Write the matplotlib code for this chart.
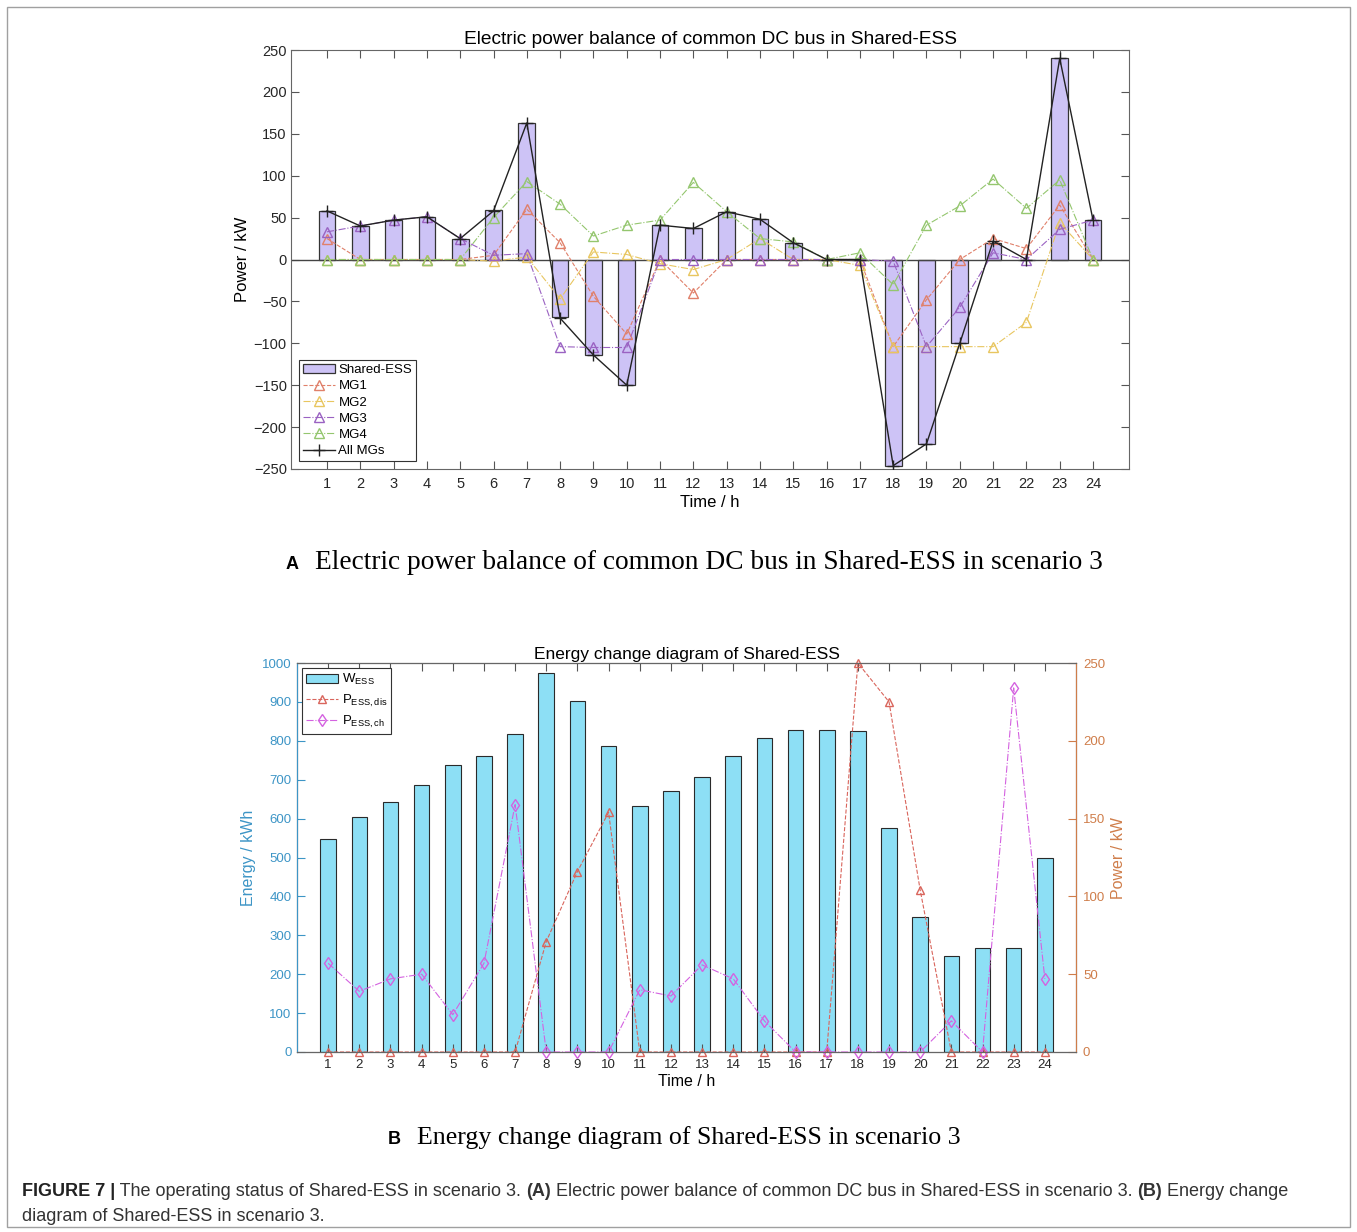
import matplotlib
matplotlib.use("Agg")
import matplotlib.pyplot as plt
from matplotlib.patches import Rectangle

plt.rcParams['font.family'] = ['Liberation Sans', 'DejaVu Sans']
plt.rcParams['mathtext.fontset'] = 'custom'
plt.rcParams['mathtext.rm'] = 'Liberation Sans'

W, H = 1357, 1232

hours = list(range(1, 25))

# panel A: power balance of the common DC bus (kW)
shared_ess = [58, 40, 47, 51, 25, 59, 163, -69, -114, -150, 41, 37,
              57, 48, 20, 0, 0, -246, -220, -100, 20, 0, 240, 47]
mg1 = [25, 0, 0, 0, 0, 5, 60, 20, -44, -89, 0, -40,
       0, 0, 0, 0, 0, -104, -48, 0, 25, 13, 65, 0]
mg2 = [0, 0, 0, 0, 0, -2, 3, -47, 9, 6, -5, -12,
       0, 25, 0, 0, -7, -104, -104, -104, -104, -75, 44, 0]
mg3 = [33, 40, 47, 51, 25, 5, 7, -104, -105, -105, 0, 0,
       0, 0, 0, 0, 0, -2, -104, -57, 8, 0, 36, 47]
mg4 = [0, 0, 0, 0, 0, 50, 93, 66, 28, 41, 47, 92,
       57, 25, 21, 0, 8, -30, 41, 64, 96, 61, 95, 0]
all_mgs = [58, 40, 47, 51, 25, 58, 163, -70, -114, -150, 41, 37,
           57, 48, 20, 0, 0, -246, -220, -100, 22, 0, 240, 47]

# panel B: energy of the shared ESS (kWh) and its power (kW)
w_ess = [547, 603, 642, 687, 737, 760, 817, 975, 903, 787, 632, 672,
         707, 762, 807, 827, 827, 825, 575, 348, 246, 267, 267, 500]
p_dis = [0, 0, 0, 0, 0, 0, 0, 71, 116, 154, 0, 0,
         0, 0, 0, 0, 0, 250, 225, 104, 0, 0, 0, 0]
p_ch = [57, 39, 47, 50, 24, 57, 159, 0, 0, 0, 40, 36,
        56, 47, 20, 0, 0, 0, 0, 0, 20, 0, 234, 47]

fig = plt.figure(figsize=(W / 100, H / 100), dpi=100)

# page background, frame and captions
bg = fig.add_axes([0, 0, 1, 1], zorder=-1)
bg.set_xlim(0, W)
bg.set_ylim(H, 0)
bg.axis('off')
bg.add_patch(Rectangle((7, 7), W - 14, H - 12, fill=False, ec='#a0a0a0', lw=1))

fig.text(286 / W, 1 - 569 / H, 'A', fontsize=13, fontweight='bold', va='baseline')
fig.text(315 / W, 1 - 569 / H, 'Electric power balance of common DC bus in Shared-ESS in scenario 3',
         family='Liberation Serif', fontsize=19.7, va='baseline')
fig.text(388 / W, 1 - 1144 / H, 'B', fontsize=13, fontweight='bold', va='baseline')
fig.text(417 / W, 1 - 1144 / H, 'Energy change diagram of Shared-ESS in scenario 3',
         family='Liberation Serif', fontsize=18.6, va='baseline')

parts = [('FIGURE 7 |', 'bold'),
         (' The operating status of Shared-ESS in scenario 3. ', 'normal'),
         ('(A)', 'bold'),
         (' Electric power balance of common DC bus in Shared-ESS in scenario 3. ', 'normal'),
         ('(B)', 'bold'),
         (' Energy change', 'normal')]
prev = fig.text(22 / W, 1 - 1200 / H, parts[0][0], fontsize=13, fontweight=parts[0][1],
                color='#222222', va='bottom')
for s, wt in parts[1:]:
    prev = bg.annotate(s, xy=(1, 0), xycoords=prev, va='bottom', ha='left',
                       fontsize=13, fontweight=wt, color='#333333')
fig.text(22 / W, 1 - 1225 / H, 'diagram of Shared-ESS in scenario 3.', fontsize=13,
         color='#333333', va='bottom')

# ---- panel A ----
ax1 = fig.add_axes([291 / W, 1 - 469 / H, 838 / W, 419 / H])
b1 = ax1.bar(hours, shared_ess, width=0.5, color='#cdc3f6', edgecolor='#333333', lw=0.9,
             label='Shared-ESS', zorder=2)
ax1.axhline(0, color='#444444', lw=1, zorder=2.5)
h1, = ax1.plot(hours, mg1, ls='--', marker='^', color='#e0806a', mfc='none', ms=7, lw=0.8,
               label='MG1', zorder=3)
h2, = ax1.plot(hours, mg2, ls='-.', marker='^', color='#e8c660', mfc='none', ms=7, lw=0.8,
               label='MG2', zorder=3)
h3, = ax1.plot(hours, mg3, ls='-.', marker='^', color='#9a62c2', mfc='none', ms=7, lw=0.8,
               label='MG3', zorder=3)
h4, = ax1.plot(hours, mg4, ls='-.', marker='^', color='#94c66e', mfc='none', ms=7, lw=0.8,
               label='MG4', zorder=3)
h5, = ax1.plot(hours, all_mgs, ls='-', marker='+', color='#222222', ms=8, lw=1,
               label='All MGs', zorder=4)
ax1.set_xlim(-0.08, 25.08)
ax1.set_ylim(-250, 250)
ax1.set_xticks(hours)
ax1.set_yticks(range(-250, 251, 50))
ax1.tick_params(direction='in', top=True, right=True, length=6, labelsize=10.5,
                color='#555555', labelcolor='#262626')
ax1.tick_params(axis='x', pad=6)
ax1.tick_params(axis='y', pad=3)
for sp in ax1.spines.values():
    sp.set_color('#666666')
ax1.set_title('Electric power balance of common DC bus in Shared-ESS', fontsize=13.8, pad=4)
ax1.set_xlabel('Time / h', fontsize=12, labelpad=3)
ax1.set_ylabel('Power / kW', fontsize=12, labelpad=3)
leg1 = ax1.legend([b1, h1, h2, h3, h4, h5],
                  ['Shared-ESS', 'MG1', 'MG2', 'MG3', 'MG4', 'All MGs'],
                  loc='lower left', fontsize=9.5, fancybox=False, edgecolor='#333333',
                  framealpha=1, borderaxespad=0.6, labelspacing=0.3, handlelength=2.4,
                  handletextpad=0.3, borderpad=0.3)
leg1.get_frame().set_linewidth(0.8)

# ---- panel B ----
blue = '#3d95c6'
orange = '#cf7d4a'
ax2 = fig.add_axes([297 / W, 1 - 1052 / H, 779 / W, 389 / H])
bars = ax2.bar(hours, w_ess, width=0.5, color='#8ddff5', edgecolor='#2a2a2a', lw=0.8,
               label=r'W$_{\mathrm{ESS}}$')
ax2.set_xlim(0, 25)
ax2.set_ylim(0, 1000)
ax2.set_xticks(hours)
ax2.set_yticks(range(0, 1001, 100))
ax2.tick_params(axis='x', direction='in', top=True, length=6, labelsize=9.5, pad=5,
                color='#555555', labelcolor='#262626')
ax2.tick_params(axis='y', direction='in', length=6, labelsize=9.5, pad=4,
                color=blue, labelcolor=blue)
ax2.set_xlabel('Time / h', fontsize=11.5, labelpad=2)
ax2.set_ylabel('Energy / kWh', fontsize=11.5, color=blue, labelpad=4)
ax2.set_title('Energy change diagram of Shared-ESS', fontsize=12.5, pad=3)

ax3 = ax2.twinx()
l_dis, = ax3.plot(hours, p_dis, ls='--', marker='^', color='#d9655c', mfc='none', ms=6,
                  lw=0.8, clip_on=False, label=r'P$_{\mathrm{ESS,dis}}$')
l_ch, = ax3.plot(hours, p_ch, ls='-.', marker='d', color='#d462e0', mfc='none', ms=6,
                 lw=0.8, clip_on=False, label=r'P$_{\mathrm{ESS,ch}}$')
ax3.set_ylim(0, 250)
ax3.set_yticks(range(0, 251, 50))
ax3.tick_params(axis='y', direction='in', length=6, labelsize=9.5, pad=5,
                color=orange, labelcolor=orange)
ax3.set_ylabel('Power / kW', fontsize=11.5, color=orange, labelpad=4)
for sp in ax3.spines.values():
    sp.set_color('#666666')
ax3.spines['left'].set_color(blue)
ax3.spines['right'].set_color(orange)
leg2 = ax3.legend([bars, l_dis, l_ch], [bars.get_label(), l_dis.get_label(), l_ch.get_label()],
                  loc='upper left', fontsize=9.5, fancybox=False, edgecolor='#333333',
                  framealpha=1, borderaxespad=0.4, labelspacing=0.4, handlelength=2.4,
                  handletextpad=0.3, borderpad=0.3)
leg2.get_frame().set_linewidth(0.8)

fig.savefig('out.png', dpi=100)
